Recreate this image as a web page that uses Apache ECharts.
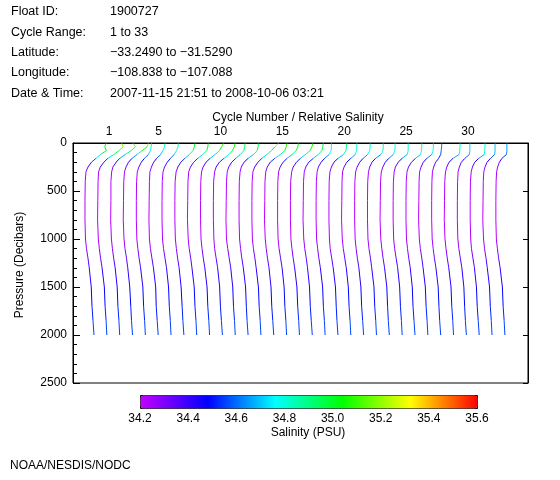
<!DOCTYPE html>
<html>
<head>
<meta charset="utf-8">
<script src="https://cdn.jsdelivr.net/npm/echarts@6/dist/echarts.min.js"></script>
<style>html,body{margin:0;padding:0;background:#fff;}#c{width:560px;height:480px;}</style>
</head>
<body>
<div id="c"></div>
<script>
// ---- data ----
const headerLabels = ['Float ID:', 'Cycle Range:', 'Latitude:', 'Longitude:', 'Date & Time:'];
const headerValues = ['1900727', '1 to 33', '\u221233.2490 to \u221231.5290', '\u2212108.838 to \u2212107.088', '2007-11-15 21:51 to 2008-10-06 03:21'];
const pressureLevels = [5, 40, 80, 120, 160, 200, 250, 300, 400, 600, 800, 1000, 1100, 1200, 1300, 1500, 1700, 1850, 2000];
const cycles = [1,2,3,4,5,6,7,8,9,10,11,12,13,14,15,16,17,18,19,20,21,22,23,24,25,26,27,28,29,30,31,32,33];
const salinity = [
 [35.05,35.00,35.06,34.83,34.65,34.47,34.33,34.25,34.22,34.21,34.21,34.23,34.27,34.33,34.38,34.46,34.49,34.53,34.57],
 [35.17,35.22,35.05,34.85,34.61,34.45,34.31,34.24,34.22,34.21,34.20,34.23,34.27,34.32,34.38,34.47,34.50,34.54,34.57],
 [35.11,35.20,35.03,34.79,34.57,34.43,34.30,34.25,34.22,34.22,34.21,34.24,34.28,34.33,34.39,34.47,34.50,34.54,34.57],
 [35.20,35.15,34.95,34.75,34.55,34.41,34.31,34.25,34.22,34.21,34.20,34.23,34.27,34.33,34.38,34.46,34.50,34.53,34.57],
 [34.82,34.80,34.77,34.69,34.53,34.41,34.31,34.25,34.22,34.21,34.21,34.23,34.27,34.32,34.38,34.47,34.50,34.54,34.57],
 [34.84,34.82,34.76,34.67,34.51,34.39,34.30,34.24,34.22,34.21,34.20,34.22,34.26,34.32,34.38,34.47,34.49,34.53,34.57],
 [34.86,34.85,34.79,34.69,34.55,34.42,34.31,34.25,34.22,34.21,34.21,34.23,34.27,34.33,34.39,34.47,34.50,34.54,34.57],
 [35.01,34.99,34.93,34.79,34.61,34.45,34.33,34.26,34.22,34.21,34.21,34.23,34.27,34.32,34.38,34.46,34.50,34.53,34.57],
 [35.03,35.01,34.97,34.81,34.61,34.45,34.32,34.25,34.22,34.21,34.20,34.23,34.27,34.33,34.38,34.47,34.50,34.54,34.57],
 [35.12,35.05,34.97,34.79,34.59,34.43,34.31,34.25,34.22,34.21,34.21,34.23,34.27,34.32,34.38,34.47,34.50,34.54,34.57],
 [35.07,35.05,34.97,34.83,34.63,34.45,34.32,34.26,34.22,34.21,34.21,34.23,34.26,34.32,34.38,34.46,34.49,34.53,34.57],
 [34.96,34.95,34.91,34.77,34.59,34.43,34.31,34.25,34.22,34.21,34.20,34.22,34.27,34.33,34.39,34.47,34.50,34.54,34.57],
 [34.98,34.97,34.93,34.79,34.57,34.41,34.30,34.25,34.22,34.21,34.21,34.23,34.27,34.32,34.38,34.47,34.50,34.53,34.57],
 [35.27,35.13,34.99,34.81,34.61,34.45,34.32,34.25,34.22,34.21,34.21,34.23,34.27,34.33,34.38,34.47,34.50,34.54,34.57],
 [35.09,35.07,35.01,34.83,34.61,34.43,34.31,34.25,34.22,34.21,34.20,34.23,34.27,34.32,34.38,34.46,34.49,34.53,34.57],
 [35.04,35.02,34.95,34.79,34.59,34.43,34.31,34.25,34.22,34.21,34.21,34.23,34.27,34.33,34.39,34.47,34.50,34.54,34.57],
 [35.10,35.07,34.99,34.81,34.61,34.45,34.32,34.26,34.22,34.21,34.21,34.23,34.27,34.32,34.38,34.47,34.50,34.54,34.57],
 [35.01,34.99,34.95,34.81,34.61,34.43,34.31,34.25,34.22,34.21,34.20,34.23,34.27,34.33,34.38,34.46,34.49,34.53,34.57],
 [34.83,34.82,34.81,34.73,34.55,34.41,34.30,34.25,34.22,34.21,34.21,34.23,34.27,34.32,34.38,34.47,34.50,34.54,34.57],
 [34.92,34.91,34.89,34.79,34.57,34.41,34.31,34.25,34.22,34.21,34.21,34.23,34.26,34.32,34.38,34.47,34.50,34.53,34.57],
 [34.81,34.81,34.80,34.75,34.57,34.41,34.30,34.24,34.22,34.21,34.20,34.23,34.27,34.33,34.39,34.47,34.50,34.54,34.57],
 [34.83,34.83,34.81,34.73,34.55,34.41,34.31,34.25,34.22,34.21,34.21,34.23,34.27,34.32,34.38,34.46,34.49,34.53,34.57],
 [34.84,34.84,34.83,34.75,34.53,34.39,34.30,34.25,34.22,34.21,34.21,34.23,34.27,34.33,34.38,34.47,34.50,34.54,34.57],
 [34.80,34.80,34.79,34.73,34.55,34.41,34.31,34.25,34.22,34.21,34.20,34.23,34.27,34.32,34.38,34.47,34.50,34.53,34.57],
 [34.81,34.81,34.81,34.77,34.57,34.41,34.30,34.25,34.22,34.21,34.21,34.23,34.27,34.33,34.39,34.47,34.50,34.54,34.57],
 [34.84,34.84,34.83,34.79,34.59,34.43,34.31,34.25,34.22,34.21,34.21,34.23,34.27,34.32,34.38,34.46,34.49,34.53,34.57],
 [34.79,34.79,34.78,34.73,34.53,34.39,34.30,34.24,34.22,34.21,34.20,34.23,34.27,34.33,34.38,34.47,34.50,34.54,34.57],
 [34.61,34.61,34.59,34.57,34.49,34.37,34.29,34.24,34.22,34.21,34.21,34.23,34.27,34.32,34.38,34.47,34.50,34.53,34.57],
 [34.83,34.83,34.82,34.79,34.55,34.39,34.30,34.25,34.22,34.21,34.20,34.23,34.27,34.32,34.38,34.47,34.50,34.54,34.57],
 [34.71,34.71,34.71,34.69,34.51,34.37,34.29,34.24,34.22,34.21,34.21,34.23,34.27,34.33,34.39,34.47,34.50,34.53,34.57],
 [34.80,34.80,34.79,34.77,34.55,34.39,34.30,34.25,34.22,34.21,34.21,34.23,34.26,34.32,34.38,34.46,34.49,34.53,34.57],
 [34.69,34.69,34.69,34.67,34.51,34.37,34.29,34.24,34.22,34.21,34.20,34.23,34.27,34.33,34.38,34.47,34.50,34.54,34.57],
 [34.65,34.65,34.65,34.63,34.45,34.35,34.28,34.24,34.22,34.21,34.21,34.23,34.27,34.32,34.38,34.47,34.50,34.54,34.57]
];
const cycleTickLabels = [1, 5, 10, 15, 20, 25, 30];
const salinityTicks = [34.2, 34.4, 34.6, 34.8, 35.0, 35.2, 35.4, 35.6];

// ---- build segments: x = cycle + relative salinity ----
const REF_SAL = 34.57;        // reference salinity for offsets
const CYC_PER_PSU = 1.95;     // horizontal scale of relative salinity
const segments = [];
cycles.forEach((c, ci) => {
  const s = salinity[ci];
  for (let i = 0; i < pressureLevels.length - 1; i++) {
    segments.push([
      c + (s[i] - REF_SAL) * CYC_PER_PSU, pressureLevels[i],
      c + (s[i + 1] - REF_SAL) * CYC_PER_PSU, pressureLevels[i + 1],
      (s[i] + s[i + 1]) / 2
    ]);
  }
});

const FONT = '"Liberation Sans", Arial, sans-serif';
const chart = echarts.init(document.getElementById('c'), null, {renderer: 'canvas'});

const graphics = [];
headerLabels.forEach((t, i) => {
  graphics.push({type: 'text', x: 11, y: 12 + i * 20.3, style: {text: t, fill: '#000', font: '12.5px ' + FONT, align: 'left', verticalAlign: 'middle'}});
  graphics.push({type: 'text', x: 110, y: 12 + i * 20.3, style: {text: headerValues[i], fill: '#000', font: '12.5px ' + FONT, align: 'left', verticalAlign: 'middle'}});
});
graphics.push({type: 'text', x: 298, y: 118, style: {text: 'Cycle Number / Relative Salinity', fill: '#000', font: '12px ' + FONT, align: 'center', verticalAlign: 'middle'}});
graphics.push({type: 'text', x: 20, y: 265, rotation: Math.PI / 2, style: {text: 'Pressure (Decibars)', fill: '#000', font: '12px ' + FONT, align: 'center', verticalAlign: 'middle'}});
graphics.push({type: 'text', x: 308, y: 433, style: {text: 'Salinity (PSU)', fill: '#000', font: '12px ' + FONT, align: 'center', verticalAlign: 'middle'}});
graphics.push({type: 'text', x: 10, y: 466, style: {text: 'NOAA/NESDIS/NODC', fill: '#000', font: '12px ' + FONT, align: 'left', verticalAlign: 'middle'}});

const option = {
  animation: false,
  backgroundColor: '#fff',
  grid: [
    {left: 73, top: 143, width: 455, height: 240, show: true, borderColor: '#000', borderWidth: 1},
    {left: 140, top: 395, width: 337, height: 13, show: false}
  ],
  xAxis: [
    {gridIndex: 0, type: 'value', min: -0.635, max: 34.8, show: false},
    {gridIndex: 0, type: 'value', position: 'top', min: -1.908, max: 34.845,
     axisLine: {show: true, onZero: false, lineStyle: {color: '#000', width: 1}}, axisTick: {show: false}, splitLine: {show: false},
     axisLabel: {customValues: cycleTickLabels, margin: 5, color: '#000', fontSize: 12, fontFamily: FONT}},
    {gridIndex: 1, type: 'value', min: 34.2, max: 35.6, interval: 0.2,
     axisLine: {show: false, onZero: false}, axisTick: {show: false}, splitLine: {show: false},
     axisLabel: {customValues: salinityTicks, margin: 5, color: '#000', fontSize: 12, fontFamily: FONT, formatter: v => v.toFixed(1)}}
  ],
  yAxis: [
    {gridIndex: 0, type: 'value', inverse: true, min: 0, max: 2500, interval: 500,
     axisLine: {show: true, onZero: false, lineStyle: {color: '#000', width: 1}}, splitLine: {show: false},
     axisTick: {show: true, inside: true, length: 7, lineStyle: {color: '#000'}},
     minorTick: {show: true, splitNumber: 5, length: 4, lineStyle: {color: '#000'}},
     axisLabel: {margin: 6, color: '#000', fontSize: 12, fontFamily: FONT, formatter: v => String(v)}},
    {gridIndex: 0, type: 'value', position: 'right', inverse: true, min: 0, max: 2500, interval: 500,
     axisLine: {show: true, onZero: false, lineStyle: {color: '#000', width: 1}}, splitLine: {show: false}, axisLabel: {show: false},
     axisTick: {show: true, inside: true, length: 5, lineStyle: {color: '#000'}}},
    {gridIndex: 1, type: 'value', show: false, min: 0, max: 1}
  ],
  visualMap: [{
    type: 'continuous', min: 34.2, max: 35.6, dimension: 4, seriesIndex: 0,
    orient: 'horizontal', left: 140, top: 395, itemWidth: 13, itemHeight: 337,
    padding: 0, text: null, calculable: false, hoverLink: false, realtime: false,
    borderColor: '#000', borderWidth: 1,
    inRange: {color: ['#c400ff', '#6200ff', '#0000ff', '#0080ff', '#00ffff', '#00ff80', '#00ff00', '#80ff00', '#ffff00', '#ff8000', '#ff0000']}
  }],
  graphic: graphics,
  series: [{
    type: 'custom',
    xAxisIndex: 0, yAxisIndex: 0,
    encode: {x: [0, 2], y: [1, 3]},
    data: segments,
    silent: true,
    renderItem: function (params, api) {
      const a = api.coord([api.value(0), api.value(1)]);
      const b = api.coord([api.value(2), api.value(3)]);
      return {type: 'line', shape: {x1: a[0], y1: a[1], x2: b[0], y2: b[1]},
              style: {stroke: api.visual('color'), lineWidth: 1}};
    }
  }]
};
chart.setOption(option);
</script>
</body>
</html>
